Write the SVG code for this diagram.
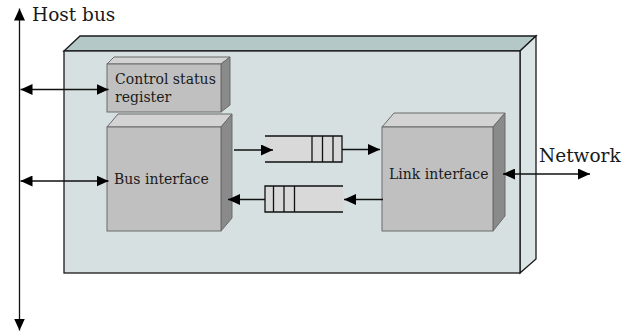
<svg xmlns="http://www.w3.org/2000/svg" width="624" height="331" viewBox="0 0 624 331">
<defs>
<style>
.lbl{font-family:"DejaVu Serif","Liberation Serif",serif;fill:#1a1a1a}
.big{font-size:18.5px}
.sm{font-size:14px}
.bf{fill:#d6e0e0;stroke:#1a1a1a;stroke-width:1.3}
.bt{fill:#b4c8c8;stroke:#1a1a1a;stroke-width:1.3}
.br{fill:#dbe5e5;stroke:#1a1a1a;stroke-width:1.3}
.gf{fill:#c0c0c0;stroke:#6a6a6a;stroke-width:1}
.gt{fill:#d3d3d3;stroke:#6a6a6a;stroke-width:1}
.gr{fill:#8a8a8a;stroke:#6a6a6a;stroke-width:1}
.q{fill:#d9d9d9;stroke:none}
.ql{fill:none;stroke:#111;stroke-width:1.3}
.c{fill:none;stroke:#111;stroke-width:1.3}
</style>
<marker id="ah" markerUnits="userSpaceOnUse" markerWidth="12" markerHeight="11" refX="12" refY="5.5" orient="auto-start-reverse" viewBox="0 0 12 11">
<path d="M0,0 L12,5.5 L0,11 z" fill="#000"/>
</marker>
</defs>

<g id="board">
<polygon class="bt" points="64,51 80,36 536,36 520,51"/>
<polygon class="br" points="520,51 536,36 536,259 520,273"/>
<rect class="bf" x="64" y="51" width="456" height="222"/>
</g>

<g id="csr">
<polygon class="gt" points="107,64 114,57 230,57 221,64"/>
<polygon class="gr" points="221,64 230,57 230,105 221,112"/>
<rect class="gf" x="107" y="64" width="114" height="48"/>
<text class="lbl sm" x="115" y="84">Control status</text>
<text class="lbl sm" x="115" y="102">register</text>
</g>

<g id="busif">
<polygon class="gt" points="107,127 118,114 232,114 221,127"/>
<polygon class="gr" points="221,127 232,114 232,218 221,231"/>
<rect class="gf" x="107" y="127" width="114" height="104"/>
<text class="lbl sm" x="114" y="184">Bus interface</text>
</g>

<g id="linkif">
<polygon class="gt" points="382,127 394,113 505,113 493,127"/>
<polygon class="gr" points="493,127 505,113 505,216 493,231"/>
<rect class="gf" x="382" y="127" width="111" height="104"/>
<text class="lbl sm" x="389" y="179">Link interface</text>
</g>

<g id="queue-out">
<rect class="q" x="265" y="136" width="77" height="26"/>
<path class="ql" d="M265,136 H342 V162 H265 M312,136 V162 M322.5,136 V162 M333,136 V162"/>
</g>

<g id="queue-in">
<rect class="q" x="265" y="186" width="78" height="26"/>
<path class="ql" d="M343,186 H265 V212 H343 M273.5,186 V212 M284,186 V212 M294.5,186 V212"/>
</g>

<g id="labels">
<text class="lbl big" x="32" y="21">Host bus</text>
<text class="lbl big" x="539" y="162">Network</text>
</g>

<g id="connectors">
<line class="c" x1="19.5" y1="330.5" x2="19.5" y2="8.5" stroke="#444" marker-end="url(#ah)" marker-start="url(#ah)"/>
<line class="c" x1="20.5" y1="89.5" x2="108.5" y2="89.5" marker-start="url(#ah)" marker-end="url(#ah)"/>
<line class="c" x1="20.5" y1="181" x2="108.5" y2="181" marker-start="url(#ah)" marker-end="url(#ah)"/>
<line class="c" x1="234" y1="150" x2="273" y2="150" marker-end="url(#ah)"/>
<line class="c" x1="342" y1="149.5" x2="380" y2="149.5" marker-end="url(#ah)"/>
<line class="c" x1="383" y1="199.5" x2="344" y2="199.5" marker-end="url(#ah)"/>
<line class="c" x1="265" y1="199.5" x2="228" y2="199.5" marker-end="url(#ah)"/>
<line class="c" x1="503" y1="174" x2="590" y2="174" marker-start="url(#ah)" marker-end="url(#ah)"/>
</g>
</svg>
